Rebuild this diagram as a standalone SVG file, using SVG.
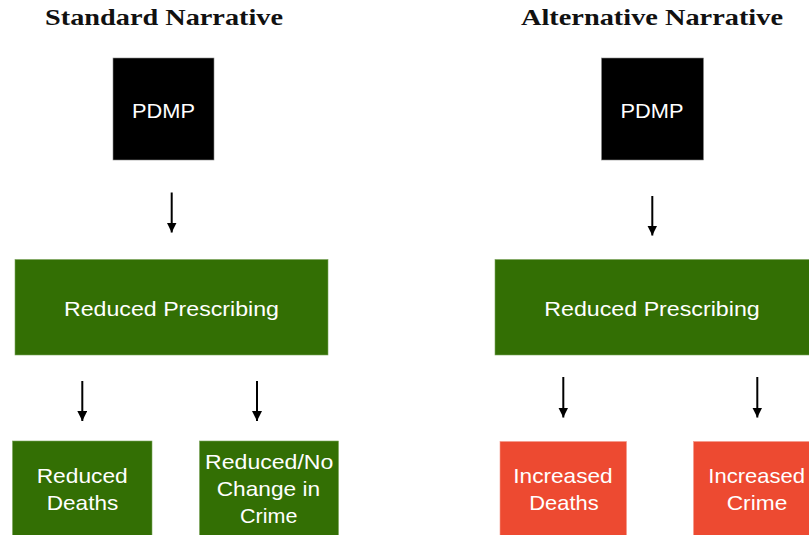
<svg xmlns="http://www.w3.org/2000/svg" width="809" height="535" viewBox="0 0 809 535">
<defs>
<style>
.title{font-family:"Liberation Serif","Times New Roman",serif;font-weight:bold;font-size:23px;fill:#111}
.lbl{font-family:"Liberation Sans",Arial,Helvetica,sans-serif;font-size:21px;fill:#fff;text-anchor:middle}
.black{fill:#000;stroke:#888;stroke-width:0.6}
.green{fill:#336f04;stroke:#7aa45a;stroke-width:0.6}
.red{fill:#ed4a31;stroke:#f39a8a;stroke-width:0.6}
.conn{stroke:#000;stroke-width:2;fill:none;marker-end:url(#ah)}
</style>
<marker id="ah" viewBox="0 0 10 10" refX="10" refY="5" markerWidth="5" markerHeight="5" markerUnits="strokeWidth" orient="auto">
<path d="M0,0 L10,5 L0,10 z" fill="#000"/>
</marker>
</defs>
<rect width="809" height="535" fill="#fff"/>
<text class="title" x="45" y="25" textLength="238" lengthAdjust="spacingAndGlyphs">Standard Narrative</text>
<text class="title" x="521" y="25" textLength="262" lengthAdjust="spacingAndGlyphs">Alternative Narrative</text>

<g id="pdmp-left"><rect class="black" x="113" y="58" width="101" height="102"/><text class="lbl" x="163.5" y="118" textLength="63" lengthAdjust="spacingAndGlyphs">PDMP</text></g>
<g id="pdmp-right"><rect class="black" x="601.5" y="58" width="102" height="102"/><text class="lbl" x="652" y="118" textLength="63" lengthAdjust="spacingAndGlyphs">PDMP</text></g>

<g id="rx-left"><rect class="green" x="15" y="259.5" width="313" height="95.5"/><text class="lbl" x="171.5" y="316" textLength="215" lengthAdjust="spacingAndGlyphs">Reduced Prescribing</text></g>
<g id="rx-right"><rect class="green" x="495" y="259.5" width="316" height="95.5"/><text class="lbl" x="652" y="316" textLength="215.5" lengthAdjust="spacingAndGlyphs">Reduced Prescribing</text></g>

<g id="deaths-left"><rect class="green" x="12.5" y="441" width="139.5" height="100"/><text class="lbl" x="82.2" y="483.3" textLength="91" lengthAdjust="spacingAndGlyphs">Reduced</text><text class="lbl" x="82.5" y="510" textLength="71.5" lengthAdjust="spacingAndGlyphs">Deaths</text></g>
<g id="crime-left"><rect class="green" x="199.5" y="441" width="139" height="100"/><text class="lbl" x="269.2" y="469.3" textLength="128.3" lengthAdjust="spacingAndGlyphs">Reduced/No</text><text class="lbl" x="268.4" y="496" textLength="103.3" lengthAdjust="spacingAndGlyphs">Change in</text><text class="lbl" x="268.7" y="522.7" textLength="57.3" lengthAdjust="spacingAndGlyphs">Crime</text></g>

<g id="deaths-right"><rect class="red" x="500" y="441.5" width="126.5" height="100"/><text class="lbl" x="563" y="483.3" textLength="99.4" lengthAdjust="spacingAndGlyphs">Increased</text><text class="lbl" x="564" y="510" textLength="69.4" lengthAdjust="spacingAndGlyphs">Deaths</text></g>
<g id="crime-right"><rect class="red" x="693.5" y="441.5" width="128" height="100"/><text class="lbl" x="756.7" y="483.3" textLength="96.7" lengthAdjust="spacingAndGlyphs">Increased</text><text class="lbl" x="757" y="510" textLength="60.6" lengthAdjust="spacingAndGlyphs">Crime</text></g>

<g id="connectors">
<line class="conn" x1="171.7" y1="192.5" x2="171.7" y2="232.5"/>
<line class="conn" x1="652.3" y1="196" x2="652.3" y2="235.5"/>
<line class="conn" x1="82.3" y1="381" x2="82.3" y2="421"/>
<line class="conn" x1="257" y1="381" x2="257" y2="421"/>
<line class="conn" x1="563.3" y1="377" x2="563.3" y2="417.5"/>
<line class="conn" x1="757.3" y1="377" x2="757.3" y2="417.5"/>
</g>
</svg>
